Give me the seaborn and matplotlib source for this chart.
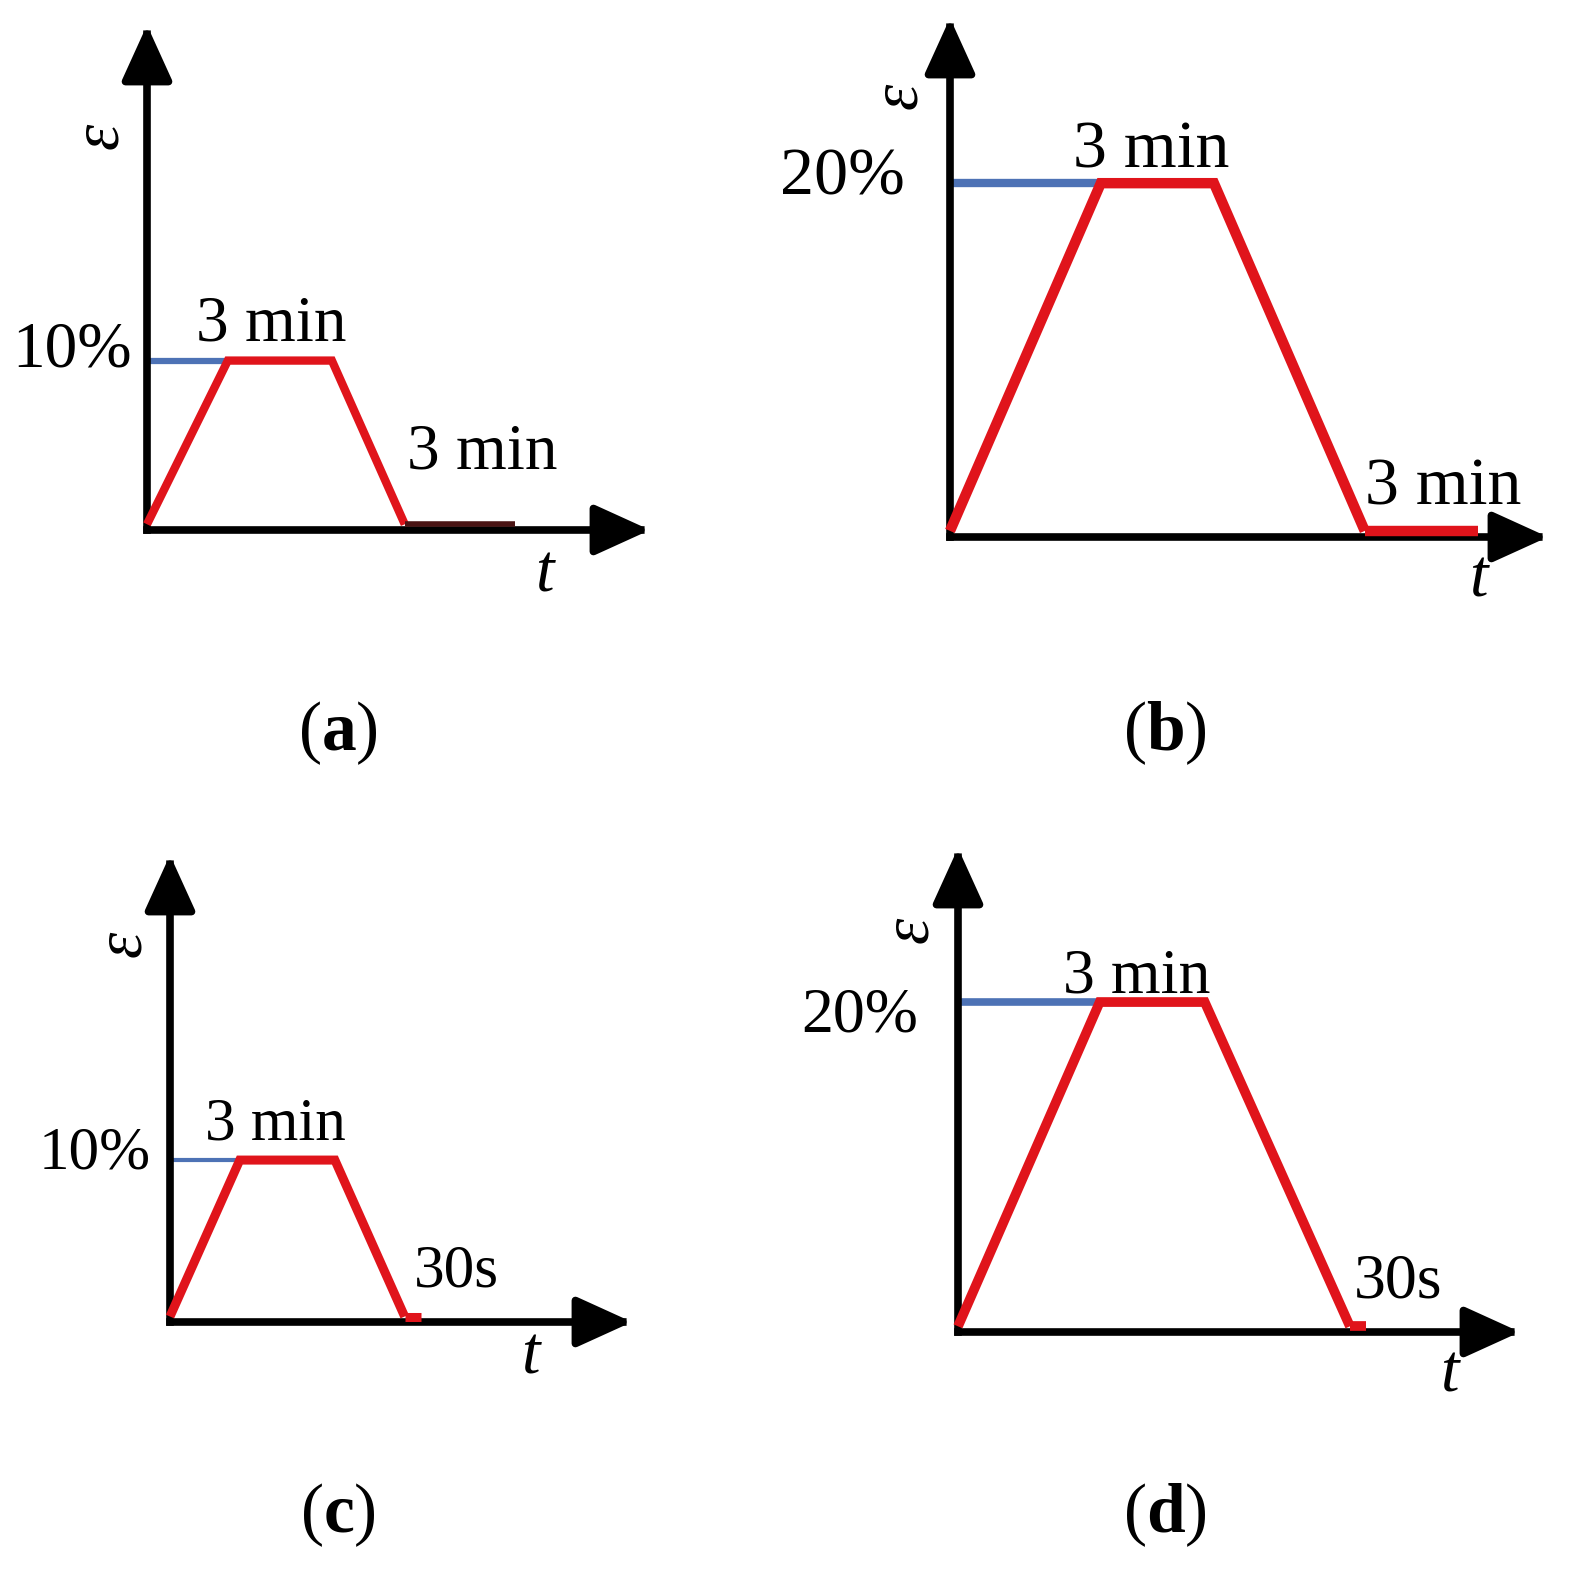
import matplotlib
matplotlib.use("Agg")
import matplotlib.pyplot as plt
import seaborn as sns

# strain programs: time (min, schematic) and strain (%)
time_a = [0, 2.33, 5.33, 7.43, 10.6]
strain_a = [0, 10, 10, 0, 0]
time_b = [0, 4.0, 7.0, 11.0, 14.0]
strain_b = [0, 20, 20, 0, 0]
time_c = [0, 2.2, 5.2, 7.4, 7.9]
strain_c = [0, 10, 10, 0, 0]
time_d = [0, 4.05, 7.05, 11.2, 11.65]
strain_d = [0, 20, 20, 0, 0]

peak_labels = ["10%", "20%", "10%", "20%"]
hold_labels = ["3 min", "3 min", "3 min", "3 min"]
rest_labels = ["3 min", "3 min", "30s", "30s"]
panel_labels = ["a", "b", "c", "d"]

sns.set_style("white")
plt.rcParams["font.family"] = ["Liberation Serif", "DejaVu Serif"]
plt.rcParams["text.color"] = "black"
plt.rcParams["mathtext.fontset"] = "custom"
plt.rcParams["mathtext.rm"] = "Liberation Serif"
plt.rcParams["mathtext.bf"] = "Liberation Serif:bold"
plt.rcParams["mathtext.it"] = "Liberation Serif:italic"

W, H = 1569, 1574
fig = plt.figure(figsize=(W / 100, H / 100), dpi=100)

RED = "#e0141b"
BLUE = "#4d72b5"

# layout per panel: origin (px), arrow tips (px), limits, text placement
panels = [
    dict(t=time_a, e=strain_a, org=(147, 530), tip=(650, 25), xmax=14.5, ymax=30.5,
         fs=47, peak_xy=(-0.45, 10.6), hold_xy=(1.4, 11.2), rest_xy=(7.5, 3.4),
         t_xy=(0.79, -0.09), eps_xy=(-0.093, 0.78), lab=(338, 733),
         hold_col=("#4a1414", 4), red_lw=6, blue_lw=4.5),
    dict(t=time_b, e=strain_b, org=(950, 537), tip=(1548, 18), xmax=15.86, ymax=29.5,
         fs=49, peak_xy=(-1.2, 20.3), hold_xy=(3.26, 20.9), rest_xy=(11.0, 1.5),
         t_xy=(0.883, -0.083), eps_xy=(-0.084, 0.85), lab=(1165, 733),
         hold_col=(RED, 7.5), red_lw=7.5, blue_lw=6),
    dict(t=time_c, e=strain_c, org=(170, 1322), tip=(632, 855), xmax=14.57, ymax=29.5,
         fs=44, peak_xy=(-0.6, 10.4), hold_xy=(1.1, 11.3), rest_xy=(7.7, 1.9),
         t_xy=(0.78, -0.075), eps_xy=(-0.10, 0.81), lab=(338, 1515),
         hold_col=(RED, 6.5), red_lw=6.5, blue_lw=3),
    dict(t=time_d, e=strain_d, org=(958, 1332), tip=(1520, 848), xmax=16.06, ymax=29.5,
         fs=46, peak_xy=(-1.14, 19.1), hold_xy=(3.0, 20.6), rest_xy=(11.3, 1.8),
         t_xy=(0.875, -0.089), eps_xy=(-0.085, 0.83), lab=(1165, 1515),
         hold_col=(RED, 7), red_lw=7, blue_lw=5.5),
]

for i, p in enumerate(panels):
    x0, y0 = p["org"]
    x1, y1 = p["tip"]
    ax = fig.add_axes([x0 / W, 1 - y0 / H, (x1 - x0) / W, (y0 - y1) / H])
    ax.set_xlim(0, p["xmax"])
    ax.set_ylim(-0.35, p["ymax"])
    ax.axis("off")

    t, e = p["t"], p["e"]
    # blue reference line at the peak strain
    sns.lineplot(x=[0, t[1]], y=[e[1], e[1]], color=BLUE, lw=p["blue_lw"], ax=ax,
                 sort=False, estimator=None, clip_on=False, zorder=3,
                 solid_capstyle="butt")
    # loading, hold, unloading
    sns.lineplot(x=t[:4], y=e[:4], color=RED, lw=p["red_lw"], ax=ax, sort=False,
                 estimator=None, clip_on=False, zorder=4, solid_joinstyle="miter",
                 solid_capstyle="butt")
    # recovery hold
    col, lw = p["hold_col"]
    sns.lineplot(x=t[3:], y=e[3:], color=col, lw=lw, ax=ax, sort=False,
                 estimator=None, clip_on=False, zorder=4, solid_capstyle="butt")

    # arrows for the axes
    arrow = dict(arrowstyle="-|>,head_length=0.55,head_width=0.25", mutation_scale=62,
                 lw=5.5, color="black", shrinkA=0, shrinkB=0, capstyle="projecting")
    ax.annotate("", xy=(1, 0), xytext=(0, 0), xycoords="axes fraction",
                arrowprops=arrow, annotation_clip=False)
    ax.annotate("", xy=(0, 1), xytext=(0, 0), xycoords="axes fraction",
                arrowprops=arrow, annotation_clip=False)

    fs = p["fs"]
    ax.text(*p["peak_xy"], peak_labels[i], fontsize=fs, ha="right", va="center")
    ax.text(*p["hold_xy"], hold_labels[i], fontsize=fs, ha="left", va="baseline")
    ax.text(*p["rest_xy"], rest_labels[i], fontsize=fs, ha="left", va="baseline")
    ax.text(*p["t_xy"], "t", fontsize=48, style="italic", ha="center", va="center",
            transform=ax.transAxes)
    ax.text(*p["eps_xy"], "ε", fontsize=48, style="italic", rotation=90,
            ha="center", va="center", transform=ax.transAxes)

    lx, ly = p["lab"]
    fig.text(lx / W, 1 - ly / H, r"($\mathbf{%s}$)" % panel_labels[i], fontsize=50,
             ha="center", va="center")

fig.savefig("out.png", dpi=100, facecolor="white")
